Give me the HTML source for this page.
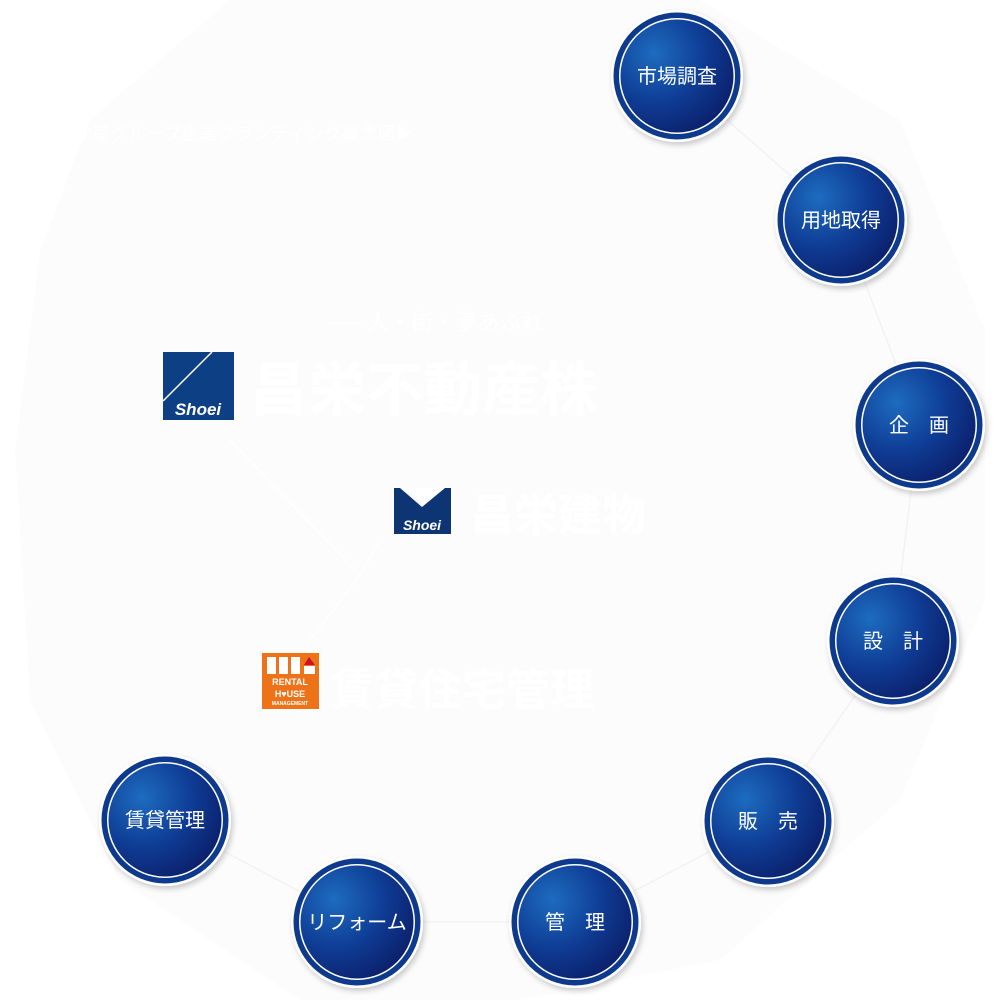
<!DOCTYPE html>
<html><head><meta charset="utf-8"><style>
html,body{margin:0;padding:0;background:#fff;}
svg{display:block}
text{font-family:"Liberation Sans","Noto Sans CJK JP",sans-serif;}
</style></head><body>
<svg width="1000" height="1000" viewBox="0 0 1000 1000" xmlns="http://www.w3.org/2000/svg">
<defs>
<radialGradient id="g" cx="0.3" cy="0.3" r="0.8">
<stop offset="0" stop-color="#1d6cc0"/>
<stop offset="0.55" stop-color="#0f3c94"/>
<stop offset="1" stop-color="#0b1f6a"/>
</radialGradient>
<filter id="sh" x="-20%" y="-20%" width="140%" height="140%"><feDropShadow dx="2" dy="3" stdDeviation="3" flood-color="#000" flood-opacity="0.2"/></filter>
</defs>
<polygon points="230,0 700,0 900,120 985,330 985,600 900,800 720,960 520,1000 300,1000 120,880 30,700 15,450 40,250 90,120" fill="#fcfcfc"/>
<text x="20" y="140" font-size="18" fill="#ffffff">昌栄不動産グループ企業ブランディング概念図▶</text>
<text x="330" y="330" font-size="22" fill="#ffffff">── 人・街・夢あふれ</text>
<text x="250" y="410" font-size="58" font-weight="bold" fill="#ffffff">昌栄不動産株</text>
<text x="470" y="530" font-size="44" font-weight="bold" fill="#ffffff">昌栄建物</text>
<text x="330" y="705" font-size="44" font-weight="bold" fill="#ffffff">賃貸住宅管理</text>
<g stroke="#ffffff" stroke-width="1.5" fill="none">
<path d="M230,440 L360,575 L310,640"/>
<path d="M380,540 L360,575"/>
</g>
<rect x="163" y="352" width="71" height="68" fill="#0d3f85"/>
<line x1="163" y1="401" x2="212" y2="352" stroke="#fff" stroke-width="1.5"/>
<text x="198" y="415" font-size="17" font-weight="bold" font-style="italic" fill="#fff" text-anchor="middle" font-family="Liberation Serif">Shoei</text>
<rect x="394" y="488" width="57" height="46" fill="#0d3574"/>
<polygon points="400,488 445,488 422,507" fill="#fff"/>
<text x="422" y="530" font-size="14" font-weight="bold" font-style="italic" fill="#fff" text-anchor="middle" font-family="Liberation Serif">Shoei</text>
<rect x="262" y="653" width="57" height="56" fill="#ee7318"/>
<rect x="267" y="657" width="9" height="17" fill="#fff"/><rect x="279" y="657" width="9" height="17" fill="#fff"/><rect x="291" y="657" width="9" height="17" fill="#fff"/><rect x="304" y="666" width="11" height="8" fill="#fff"/>
<polygon points="304,665 309,657 315,665" fill="#d0102a"/>
<text x="290" y="685" font-size="9" font-weight="bold" fill="#fff" text-anchor="middle">RENTAL</text>
<text x="290" y="697" font-size="9" font-weight="bold" fill="#fff" text-anchor="middle">H♥USE</text>
<text x="290" y="705" font-size="5" font-weight="bold" fill="#fff" text-anchor="middle">MANAGEMENT</text>
<g stroke="#f2f2f2" stroke-width="1.5">
<line x1="677" y1="76" x2="841" y2="220"/><line x1="841" y1="220" x2="919" y2="425"/><line x1="919" y1="425" x2="893" y2="641"/><line x1="893" y1="641" x2="768" y2="821"/><line x1="768" y1="821" x2="575" y2="922"/><line x1="575" y1="922" x2="357" y2="922"/><line x1="357" y1="922" x2="165" y2="820"/>
</g>
<g font-size="20" fill="#fff" text-anchor="middle">
<g transform="translate(677,76)"><circle r="66" fill="#fff" filter="url(#sh)"/><circle r="63.5" fill="#0e3a8e"/><circle r="58" fill="#fff"/><circle r="56.5" fill="url(#g)"/><text y="7">市場調査</text></g>
<g transform="translate(841,220)"><circle r="66" fill="#fff" filter="url(#sh)"/><circle r="63.5" fill="#0e3a8e"/><circle r="58" fill="#fff"/><circle r="56.5" fill="url(#g)"/><text y="7">用地取得</text></g>
<g transform="translate(919,425)"><circle r="66" fill="#fff" filter="url(#sh)"/><circle r="63.5" fill="#0e3a8e"/><circle r="58" fill="#fff"/><circle r="56.5" fill="url(#g)"/><text y="7">企　画</text></g>
<g transform="translate(893,641)"><circle r="66" fill="#fff" filter="url(#sh)"/><circle r="63.5" fill="#0e3a8e"/><circle r="58" fill="#fff"/><circle r="56.5" fill="url(#g)"/><text y="7">設　計</text></g>
<g transform="translate(768,821)"><circle r="66" fill="#fff" filter="url(#sh)"/><circle r="63.5" fill="#0e3a8e"/><circle r="58" fill="#fff"/><circle r="56.5" fill="url(#g)"/><text y="7">販　売</text></g>
<g transform="translate(575,922)"><circle r="66" fill="#fff" filter="url(#sh)"/><circle r="63.5" fill="#0e3a8e"/><circle r="58" fill="#fff"/><circle r="56.5" fill="url(#g)"/><text y="7">管　理</text></g>
<g transform="translate(357,922)"><circle r="66" fill="#fff" filter="url(#sh)"/><circle r="63.5" fill="#0e3a8e"/><circle r="58" fill="#fff"/><circle r="56.5" fill="url(#g)"/><text y="7">リフォーム</text></g>
<g transform="translate(165,820)"><circle r="66" fill="#fff" filter="url(#sh)"/><circle r="63.5" fill="#0e3a8e"/><circle r="58" fill="#fff"/><circle r="56.5" fill="url(#g)"/><text y="7">賃貸管理</text></g>
</g>
</svg>
</body></html>
